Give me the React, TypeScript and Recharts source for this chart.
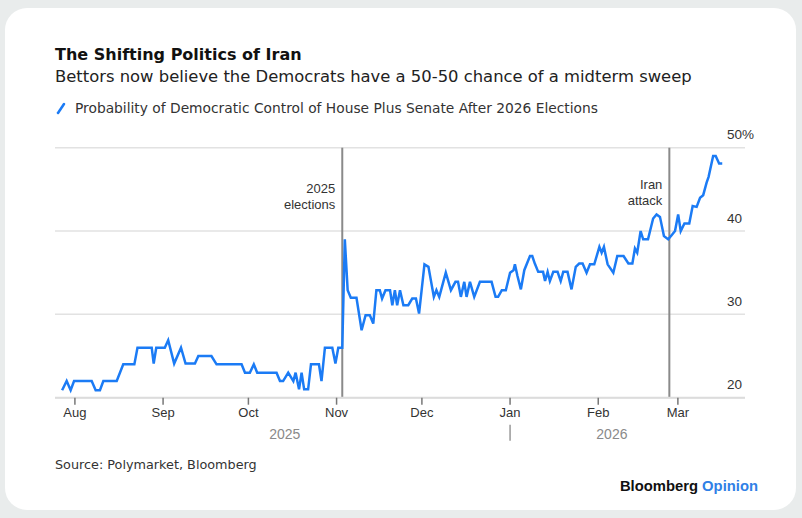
import React from 'react';
import { LineChart, Line, XAxis, YAxis, CartesianGrid, ReferenceLine } from 'recharts';

// Days since Aug 1, 2025
const dayOffsets = [
  -4.5, -2.9, -1.5, -0.3, 5.9, 7.3, 8.8, 10.0, 14.7, 17.0, 20.9, 22.0, 27.0, 27.7, 28.6, 31.6, 32.8, 34.9, 37.3, 38.9,
  42.2, 43.4, 48.0, 49.8, 58.6, 59.8, 61.5, 62.9, 64.1, 70.9, 72.1, 73.2, 75.0, 76.8, 77.6, 78.8, 79.7, 80.6, 82.0, 83.0,
  85.8, 86.7, 87.9, 90.5, 91.6, 92.6, 94.0, 94.9, 95.9, 97.0, 99.0, 100.8, 102.2, 103.7, 104.9, 106.0, 107.2, 108.0, 109.2, 110.8,
  111.6, 112.5, 113.3, 114.3, 115.5, 117.2, 118.6, 119.9, 121.0, 122.9, 124.3, 126.2, 127.1, 128.1, 130.4, 132.2, 133.8, 134.7, 135.7, 136.9,
  137.7, 138.9, 140.4, 142.4, 146.5, 147.9, 148.8, 150.1, 151.5, 153.0, 154.2, 154.7, 155.6, 156.8, 158.0, 160.0, 160.8, 161.7, 162.9, 164.6,
  165.3, 166.2, 167.0, 168.2, 169.7, 170.8, 171.7, 173.2, 174.6, 176.1, 177.3, 178.5, 179.9, 181.1, 182.6, 184.4, 185.2, 186.0, 187.3, 189.3,
  190.7, 192.9, 194.6, 196.0, 196.9, 197.7, 198.9, 199.8, 201.5, 203.3, 204.5, 205.7, 207.1, 208.6, 209.8, 211.0, 212.1, 213.0, 214.3, 216.0,
  217.2, 218.6, 219.8, 220.9, 222.1, 222.8, 224.4, 225.3, 226.5, 227.6,
];

// Probability (%) of Democratic control of House plus Senate
const probability = [
  20.9, 22.0, 20.9, 22.0, 22.0, 20.9, 20.9, 22.0, 22.0, 24.0, 24.0, 26.0, 26.0, 24.1, 26.0, 26.0, 26.9, 24.1, 26.0, 24.1,
  24.1, 25.0, 25.0, 24.0, 24.0, 23.0, 23.0, 24.0, 23.0, 23.0, 22.0, 22.0, 23.0, 22.0, 23.0, 21.0, 23.0, 21.0, 21.0, 24.0,
  24.0, 22.0, 26.0, 26.0, 24.1, 26.0, 26.0, 39.0, 32.9, 32.0, 32.0, 28.1, 29.9, 29.9, 28.9, 32.9, 32.9, 31.9, 32.9, 32.9,
  31.1, 32.9, 31.1, 32.9, 31.1, 31.1, 31.9, 31.9, 30.1, 36.0, 35.7, 32.1, 32.9, 32.1, 35.0, 32.9, 33.9, 33.9, 32.1, 33.9,
  32.1, 33.9, 32.1, 33.9, 33.9, 32.1, 32.1, 32.9, 32.9, 35.0, 35.3, 36.0, 34.6, 33.0, 35.3, 37.0, 37.0, 36.1, 35.1, 35.1,
  34.0, 35.1, 34.0, 35.1, 35.1, 34.0, 35.1, 35.1, 33.0, 35.7, 36.1, 36.1, 35.0, 36.0, 36.0, 38.1, 37.4, 38.1, 36.0, 35.0,
  37.0, 37.0, 36.1, 36.1, 37.9, 37.4, 40.0, 39.0, 39.0, 41.5, 42.0, 41.7, 39.4, 39.0, 39.5, 40.0, 42.0, 40.0, 40.9, 40.9,
  43.0, 42.9, 44.0, 44.3, 45.8, 46.5, 49.0, 49.0, 48.1, 48.1,
];

const monthTicks = [0, 31, 61, 92, 122, 153, 184, 212];
const monthLabels = ['Aug', 'Sep', 'Oct', 'Nov', 'Dec', 'Jan', 'Feb', 'Mar'];
const yTicks = [20, 30, 40, 50];
const yearTicks = [73.8, 153, 188.8];
const yearLabels = ['2025', '|', '2026'];
const eventDays = [94, 209];
const eventLabels = [['2025', 'elections'], ['Iran', 'attack']];

const data = dayOffsets.map((d, i) => ({ d, p: probability[i] }));

const FONT = '"Liberation Sans", Arial, sans-serif';
const WIDE = '"DejaVu Sans", "Liberation Sans", sans-serif';

const EventLabel = (props: any) => {
  const { viewBox, lines, offsetY } = props;
  const x = viewBox.x - 7;
  const y = viewBox.y;
  return (
    <g>
      {lines.map((t: string, i: number) => (
        <text key={i} x={x} y={y + offsetY + i * 16} textAnchor="end" dominantBaseline="central"
          fontSize={13} fill="#333" fontFamily={FONT}>{t}</text>
      ))}
    </g>
  );
};

const YTick = (props: any) => {
  const { x, y, payload } = props;
  const v = payload.value;
  return (
    <text x={x - 18} y={y - 13} textAnchor="start" dominantBaseline="central" fontSize={13.5} fill="#333" fontFamily={FONT}>
      {v === 50 ? '50%' : String(v)}
    </text>
  );
};

const YearTick = (props: any) => {
  const { x, y, payload } = props;
  const idx = yearTicks.indexOf(payload.value);
  const label = yearLabels[idx];
  if (label === '|') {
    return <line x1={x} x2={x} y1={y - 3} y2={y + 13} stroke="#999" strokeWidth={1.5} />;
  }
  return (
    <text x={x} y={y + 6} textAnchor="middle" dominantBaseline="central" fontSize={14} fill="#8a8a8a" fontFamily={FONT}>
      {label}
    </text>
  );
};

export default function App() {
  return (
    <div style={{ position: 'absolute', left: 0, top: 0, width: 802, height: 518, background: '#e9ecec', overflow: 'hidden', fontFamily: FONT }}>
      <div style={{ position: 'absolute', left: 5, top: 8, width: 791, height: 502, background: '#fff', borderRadius: 22 }} />
      <div style={{ position: 'absolute', left: 55, top: 45, fontSize: 16, lineHeight: '20px', fontWeight: 700, color: '#111', whiteSpace: 'nowrap', fontFamily: WIDE }}>
        The Shifting Politics of Iran
      </div>
      <div style={{ position: 'absolute', left: 55, top: 67, fontSize: 16.4, lineHeight: '20px', color: '#222', whiteSpace: 'nowrap', fontFamily: WIDE }}>
        Bettors now believe the Democrats have a 50-50 chance of a midterm sweep
      </div>
      <div style={{ position: 'absolute', left: 55, top: 99, fontSize: 13.8, lineHeight: '18px', color: '#333', whiteSpace: 'nowrap', display: 'flex', alignItems: 'center', fontFamily: WIDE }}>
        <svg width={14} height={14} style={{ marginRight: 6 }}>
          <line x1={3} y1={12} x2={9} y2={3} stroke="#1b7bf5" strokeWidth={2.5} strokeLinecap="round" />
        </svg>
        Probability of Democratic Control of House Plus Senate After 2026 Elections
      </div>
      <div style={{ position: 'absolute', left: 0, top: 0 }}>
        <LineChart width={802} height={518} data={data} margin={{ top: 147.7, right: 27, bottom: 70.3, left: 55 }}>
          <CartesianGrid vertical={false} stroke="#e2e2e2" strokeWidth={1.5} />
          <XAxis dataKey="d" type="number" domain={[-7, 235.6]} ticks={monthTicks}
            tickFormatter={(v: number) => monthLabels[monthTicks.indexOf(v)]}
            axisLine={{ stroke: '#dcdcdc', strokeWidth: 2 }} tickLine={{ stroke: '#777', strokeWidth: 1.5 }}
            tickSize={7} tickMargin={3} height={30} interval={0}
            tick={{ fontSize: 13, fill: '#333', fontFamily: FONT }} allowDataOverflow />
          <XAxis xAxisId="year" dataKey="d" type="number" domain={[-7, 235.6]} ticks={yearTicks}
            axisLine={false} tickLine={false} tickSize={0} tickMargin={0} height={20} interval={0}
            tick={<YearTick />} allowDataOverflow />
          <YAxis orientation="right" domain={[20, 50]} ticks={yTicks} width={30} axisLine={false} tickLine={false}
            tickSize={0} tickMargin={0} tick={<YTick />} interval={0} allowDataOverflow />
          <ReferenceLine x={eventDays[0]} stroke="#8a8a8a" strokeWidth={2}
            label={<EventLabel lines={eventLabels[0]} offsetY={41} />} />
          <ReferenceLine x={eventDays[1]} stroke="#8a8a8a" strokeWidth={2}
            label={<EventLabel lines={eventLabels[1]} offsetY={37} />} />
          <Line type="linear" dataKey="p" stroke="#1b7bf5" strokeWidth={2.5} dot={false} isAnimationActive={false} />
        </LineChart>
      </div>
      <div style={{ position: 'absolute', left: 55, top: 457, fontSize: 12.8, lineHeight: '16px', color: '#333', whiteSpace: 'nowrap', fontFamily: WIDE }}>
        Source: Polymarket, Bloomberg
      </div>
      <div style={{ position: 'absolute', right: 44, top: 477, fontSize: 14.8, lineHeight: '18px', fontWeight: 700, whiteSpace: 'nowrap' }}>
        <span style={{ color: '#111' }}>Bloomberg </span><span style={{ color: '#2f80e6' }}>Opinion</span>
      </div>
    </div>
  );
}
